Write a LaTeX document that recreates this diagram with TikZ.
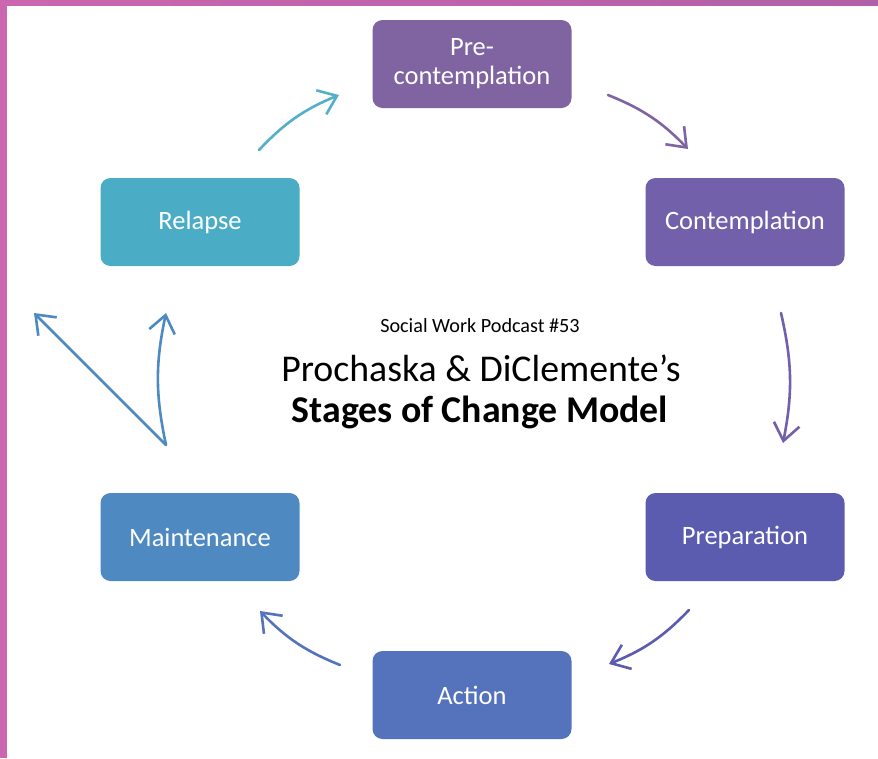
\documentclass[tikz,border=0pt]{standalone}
\usepackage{fontspec}
\setmainfont{Carlito}
\usetikzlibrary{arrows.meta}
\definecolor{cPre}{HTML}{8064A2}
\definecolor{cCon}{HTML}{7260AA}
\definecolor{cPrep}{HTML}{5B5CB0}
\definecolor{cAct}{HTML}{5573BC}
\definecolor{cMai}{HTML}{4F89C1}
\definecolor{cRel}{HTML}{4BACC6}
\definecolor{bordL}{HTML}{CC66B0}
\definecolor{bordR}{HTML}{B060A8}
\tikzset{
  stagebox/.style={rounded corners=10pt, minimum width=199pt, minimum height=88pt,
    inner sep=0pt, align=center, text=white, font=\fontsize{26.5}{29}\selectfont},
  cyc/.style={line width=2.6pt, line cap=round,
    -{Straight Barb[length=17pt,width=26pt,line width=2.6pt]}},
}
\begin{document}
\begin{tikzpicture}[x=1pt,y=-1pt]
\useasboundingbox (0,0) rectangle (878,758);
\fill[white] (0,0) rectangle (878,758);
\fill[bordL] (0,0) rectangle (7,758);
\shade[left color=bordL, right color=bordR] (0,0) rectangle (878,5);
% boxes
\node[stagebox, fill=cPre]  (pre)  at (472,64)  {Pre-\\contemplation};
\node[stagebox, fill=cCon]  (con)  at (745,222) {Contemplation};
\node[stagebox, fill=cPrep] (prep) at (745,537) {Preparation};
\node[stagebox, fill=cAct]  (act)  at (472,695) {Action};
\node[stagebox, fill=cMai]  (mai)  at (200,537) {Maintenance};
\node[stagebox, fill=cRel]  (rel)  at (200,222) {Relapse};
% title
\node (pod) at (480,326) {\fontsize{20.2}{22}\selectfont Social Work Podcast \#53};
\node (t1) at (481,368) {\fontsize{37.8}{40}\selectfont Prochaska \& DiClemente’s};
\node (t2) at (480,412) {\fontsize{37.8}{40}\selectfont\bfseries Stages of Change Model};
% arrow end coordinates
\coordinate (a1s) at (259,150); \coordinate (a1e) at (339,95);
\coordinate (a2s) at (608,95);  \coordinate (a2e) at (688,149);
\coordinate (a3s) at (781,313); \coordinate (a3e) at (783,443);
\coordinate (a4s) at (689,610); \coordinate (a4e) at (609,664);
\coordinate (a5s) at (340,665); \coordinate (a5e) at (260,611);
\coordinate (a6s) at (166,445); \coordinate (a6e) at (166,313);
\coordinate (a7e) at (34,313);
% arrows
\draw[cyc, color=cRel!95!white] (a1s) to[bend left=12] (a1e);
\draw[cyc, color=cPre] (a2s) to[bend left=12] (a2e);
\draw[cyc, color=cCon] (a3s) to[bend left=12] (a3e);
\draw[cyc, color=cPrep] (a4s) to[bend left=12] (a4e);
\draw[cyc, color=cAct] (a5s) to[bend left=12] (a5e);
\draw[cyc, color=cMai] (a6s) to[bend left=12] (a6e);
\draw[cyc, color=cMai] (a6s) -- (a7e);
\end{tikzpicture}
\end{document}
